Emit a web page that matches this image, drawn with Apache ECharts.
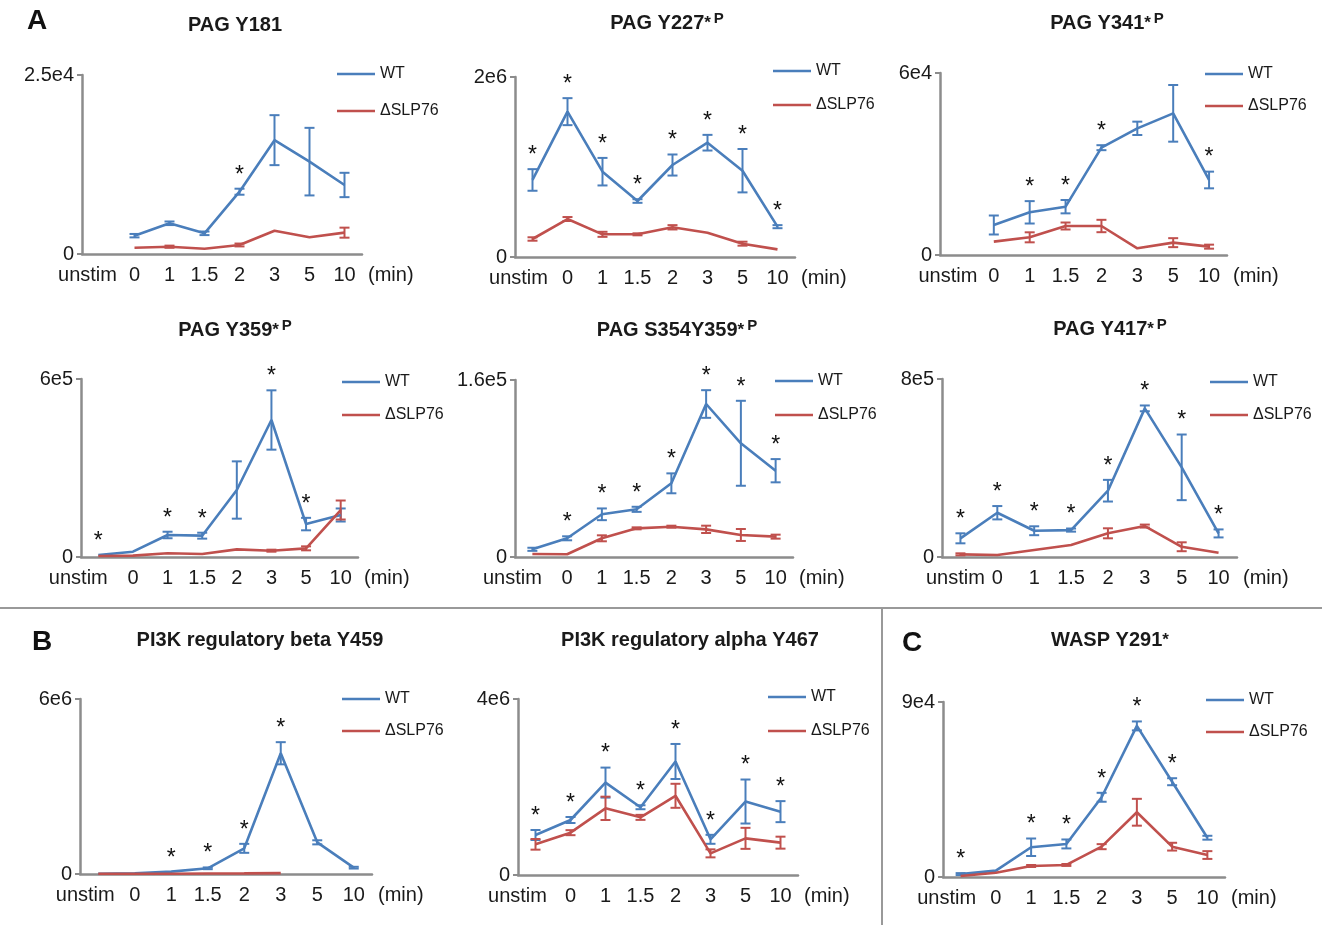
<!DOCTYPE html>
<html>
<head>
<meta charset="utf-8">
<title>Phosphosite time courses</title>
<script src="https://cdn.jsdelivr.net/npm/echarts@6/dist/echarts.min.js"></script>
<style>
html, body { margin: 0; padding: 0; background: #fff; }
#chart { width: 1322px; height: 925px; }
</style>
</head>
<body>
<div id="chart"></div>
<script>
//时间点
var timeLabels = ['unstim', '0', '1', '1.5', '2', '3', '5', '10'];
var seriesNames = ['WT', 'ΔSLP76'];
//各面板标题
var panelTitles = [
    'PAG Y181', 'PAG Y227{s|*}{p|P}', 'PAG Y341{s|*}{p|P}',
    'PAG Y359{s|*}{p|P}', 'PAG S354Y359{s|*}{p|P}', 'PAG Y417{s|*}{p|P}',
    'PI3K regulatory beta Y459', 'PI3K regulatory alpha Y467', 'WASP Y291{s|*}'
];
//y轴最大值
var axisMax = [2.5e4, 2e6, 6e4, 6e5, 1.6e5, 8e5, 6e6, 4e6, 9e4];
var axisMaxLabels = ['2.5e4', '2e6', '6e4', '6e5', '1.6e5', '8e5', '6e6', '4e6', '9e4'];
//WT 均值
var wtMean = [
    [null, 2560, 4290, 2890, 8700, 15900, 12900, 9640],
    [856000, 1615000, 948000, 622000, 1022000, 1270000, 959000, 337000],
    [null, 9890, 14070, 15930, 35380, 41760, 46700, 24730],
    [6700, 17900, 74200, 71900, 225800, 461800, 111000, 141600],
    [6960, 16900, 38600, 43100, 66600, 138300, 102800, 78000],
    [84000, 199000, 118000, 121000, 298000, 668000, 403000, 106000],
    [10000, 20000, 80000, 195000, 880000, 4140000, 1086000, 217000],
    [909000, 1250000, 2100000, 1540000, 2580000, 811000, 1670000, 1440000],
    [1500, 3260, 15300, 17000, 41000, 77700, 49000, 20200]
];
//WT 误差
var wtErr = [
    [0, 240, 250, 250, 420, 3490, 4720, 1700],
    [120000, 150000, 153000, 20000, 117000, 87000, 241000, 17000],
    [0, 3130, 3690, 2200, 820, 2200, 9340, 2750],
    [0, 0, 11000, 10000, 96600, 100000, 21000, 22000],
    [1400, 1800, 5300, 2300, 9000, 12500, 38400, 10500],
    [22500, 30000, 20000, 7000, 48700, 13000, 147500, 18000],
    [0, 0, 0, 30000, 154000, 380000, 70000, 30000],
    [114000, 68000, 341000, 45000, 398000, 102000, 500000, 239000],
    [500, 0, 4500, 2300, 2300, 2300, 1800, 1000]
];
//ΔSLP76 均值
var koMean = [
    [null, 880, 1020, 740, 1260, 3250, 2330, 2980],
    [200000, 422000, 252000, 252000, 330000, 270000, 148000, 85000],
    [null, 4400, 5830, 9560, 9560, 2200, 4070, 2750],
    [3400, 4500, 12400, 10000, 25800, 21300, 29200, 158400],
    [2700, 2500, 16900, 25900, 27400, 25000, 19900, 18400],
    [12000, 9000, 31500, 54000, 106500, 139000, 46000, 19500],
    [5000, 5000, 10000, 15000, 20000, 30000, null, null],
    [697000, 962000, 1515000, 1310000, 1800000, 492000, 833000, 735000],
    [500, 2200, 5660, 6200, 15600, 33300, 15600, 11300]
];
//ΔSLP76 误差
var koErr = [
    [0, 0, 150, 0, 200, 0, 0, 700],
    [19000, 22000, 28000, 11000, 24000, 0, 22000, 0],
    [0, 0, 1650, 1150, 2040, 0, 1480, 660],
    [0, 0, 0, 0, 0, 3400, 6700, 32000],
    [0, 0, 2700, 900, 900, 3300, 5400, 1800],
    [4500, 0, 0, 0, 22500, 6700, 20000, 0],
    [0, 0, 0, 0, 0, 0, 0, 0],
    [121000, 57000, 265000, 57000, 273000, 91000, 239000, 136000],
    [0, 0, 500, 500, 1300, 6900, 2000, 2000]
];
//显著性星号所在时间点
var stars = [
    [4],
    [0, 1, 2, 3, 4, 5, 6, 7],
    [2, 3, 4, 7],
    [0, 2, 3, 5, 6],
    [1, 2, 3, 4, 5, 6, 7],
    [0, 1, 2, 3, 4, 5, 6, 7],
    [2, 3, 4, 5],
    [0, 1, 2, 3, 4, 5, 6, 7],
    [0, 2, 3, 4, 5, 6]
];

//布局: 网格左, 上, 右端, 底, 标题中心x, 标题中心y, 图例左, 图例上, 图例间距, unstim左移
var layout = [
    [82, 75, 362, 254, 235, 25, 337, 66, 21, 12],
    [515, 77, 795, 257, 667, 23, 773, 63, 18, 14],
    [940, 73, 1227, 255, 1107, 23, 1205, 66, 16, 10],
    [81, 379, 358, 557, 235, 330, 342, 374, 17, 20],
    [515, 380, 793, 557, 677, 330, 775, 373, 18, 20],
    [942, 379, 1237, 557, 1110, 329, 1210, 374, 17, 5],
    [80, 699, 372, 874, 260, 640, 342, 691, 16, 13],
    [518, 699, 798, 875, 690, 640, 768, 689, 18, 18],
    [943, 702, 1225, 877, 1110, 640, 1206, 692, 16, 14]
];

var blue = '#4a7ebb';
var red = '#c0504d';
var axisColor = '#8c8c8c';
var textColor = '#1a1a1a';
var font = '"Liberation Sans", Arial, sans-serif';

//误差线
function renderErr(params, api) {
    var i = api.value(0), v = api.value(1), e = api.value(2);
    var lo = api.coord([i, v - e]);
    var hi = api.coord([i, v + e]);
    var w = 5;
    var st = { stroke: api.visual('color'), lineWidth: 2 };
    return {
        type: 'group',
        children: [
            { type: 'line', shape: { x1: lo[0], y1: lo[1], x2: hi[0], y2: hi[1] }, style: st },
            { type: 'line', shape: { x1: lo[0] - w, y1: lo[1], x2: lo[0] + w, y2: lo[1] }, style: st },
            { type: 'line', shape: { x1: hi[0] - w, y1: hi[1], x2: hi[0] + w, y2: hi[1] }, style: st }
        ]
    };
}
//星号
function renderStar(params, api) {
    var p = api.coord([api.value(0), api.value(1)]);
    return {
        type: 'text',
        style: {
            text: '*', x: p[0], y: p[1] - 2,
            align: 'center', verticalAlign: 'bottom',
            font: '23px ' + font, fill: '#111'
        }
    };
}

function errData(mean, err) {
    var out = [];
    for (var i = 0; i < mean.length; i++) {
        if (mean[i] !== null && err[i] > 0) {
            out.push([i, mean[i], err[i]]);
        }
    }
    return out;
}

var grids = [], xAxes = [], yAxes = [], series = [], titles = [], legends = [];

for (var p = 0; p < 9; p++) {
    var L = layout[p];
    grids.push({ left: L[0], top: L[1], width: L[2] - L[0], height: L[3] - L[1] });
    xAxes.push({
        gridIndex: p,
        type: 'category',
        data: timeLabels,
        boundaryGap: true,
        axisTick: { show: false },
        axisLine: { lineStyle: { color: axisColor, width: 2.5 } },
        axisLabel: {
            fontSize: 20, color: textColor, margin: 11, interval: 0, hideOverlap: false,
            formatter: function (v, idx) { return idx === 0 ? '{u|' + v + '}' : v; },
            rich: { u: { fontSize: 20, color: textColor, padding: [0, L[9] * 2, 0, 0] } }
        },
        name: '\n(min)',
        nameLocation: 'end',
        nameGap: 6,
        nameTextStyle: { fontSize: 20, color: textColor, align: 'left', verticalAlign: 'middle', lineHeight: 42 }
    });
    yAxes.push({
        gridIndex: p,
        type: 'value',
        min: 0,
        max: axisMax[p],
        interval: axisMax[p],
        splitLine: { show: false },
        axisLine: { show: true, lineStyle: { color: axisColor, width: 2.5 } },
        axisTick: { show: true, length: 5, lineStyle: { color: axisColor, width: 2 } },
        axisLabel: {
            fontSize: 20, color: textColor, margin: 8,
            formatter: (function (lbl) {
                return function (v) { return v === 0 ? '0' : lbl; };
            })(axisMaxLabels[p])
        }
    });
    series.push({
        type: 'line', name: seriesNames[0], xAxisIndex: p, yAxisIndex: p,
        data: wtMean[p], symbol: 'none', connectNulls: false,
        lineStyle: { width: 2.6, color: blue }, itemStyle: { color: blue }
    });
    series.push({
        type: 'line', name: seriesNames[1], xAxisIndex: p, yAxisIndex: p,
        data: koMean[p], symbol: 'none', connectNulls: false,
        lineStyle: { width: 2.6, color: red }, itemStyle: { color: red }
    });
    series.push({
        type: 'custom', name: 'errWT', xAxisIndex: p, yAxisIndex: p,
        renderItem: renderErr, itemStyle: { color: blue },
        encode: { x: 0, y: 1 }, data: errData(wtMean[p], wtErr[p]), z: 3
    });
    series.push({
        type: 'custom', name: 'errKO', xAxisIndex: p, yAxisIndex: p,
        renderItem: renderErr, itemStyle: { color: red },
        encode: { x: 0, y: 1 }, data: errData(koMean[p], koErr[p]), z: 3
    });
    var starData = stars[p].map(function (i) {
        var a = wtMean[p][i] === null ? 0 : wtMean[p][i] + wtErr[p][i];
        var b = koMean[p][i] === null ? 0 : koMean[p][i] + koErr[p][i];
        return [i, Math.max(a, b)];
    });
    series.push({
        type: 'custom', name: 'star', xAxisIndex: p, yAxisIndex: p,
        renderItem: renderStar, encode: { x: 0, y: 1 }, data: starData, z: 4
    });
    titles.push({
        text: panelTitles[p], left: L[4], top: L[5], padding: 0,
        textAlign: 'center', textVerticalAlign: 'middle',
        textStyle: {
            fontSize: 20, fontWeight: 'bold', color: textColor, fontFamily: font, lineHeight: 24,
            rich: {
                s: { fontSize: 17, fontWeight: 'bold', color: textColor, fontFamily: font, lineHeight: 24 },
                p: { fontSize: 15, fontWeight: 'bold', color: textColor, fontFamily: font, verticalAlign: 'top', lineHeight: 15, padding: [0, 0, 0, 3] }
            }
        }
    });
    legends.push({
        left: L[6], top: L[7], orient: 'vertical', padding: 0, itemGap: L[8],
        icon: 'rect', itemWidth: 38, itemHeight: 2.5, selectedMode: false,
        data: seriesNames,
        textStyle: { fontSize: 16, color: textColor, fontFamily: font }
    });
}

//面板字母
[['A', 37, 21], ['B', 42, 642], ['C', 912, 643]].forEach(function (t) {
    titles.push({
        text: t[0], left: t[1], top: t[2], padding: 0,
        textAlign: 'center', textVerticalAlign: 'middle',
        textStyle: { fontSize: 28, fontWeight: 'bold', color: '#111', fontFamily: font }
    });
});

var chart = echarts.init(document.getElementById('chart'));
chart.setOption({
    animation: false,
    textStyle: { fontFamily: font },
    title: titles,
    legend: legends,
    grid: grids,
    xAxis: xAxes,
    yAxis: yAxes,
    series: series,
    graphic: [
        { type: 'line', shape: { x1: 0, y1: 608, x2: 1322, y2: 608 }, style: { stroke: '#999', lineWidth: 2 } },
        { type: 'line', shape: { x1: 882, y1: 608, x2: 882, y2: 925 }, style: { stroke: '#999', lineWidth: 2 } }
    ]
});
</script>
</body>
</html>
